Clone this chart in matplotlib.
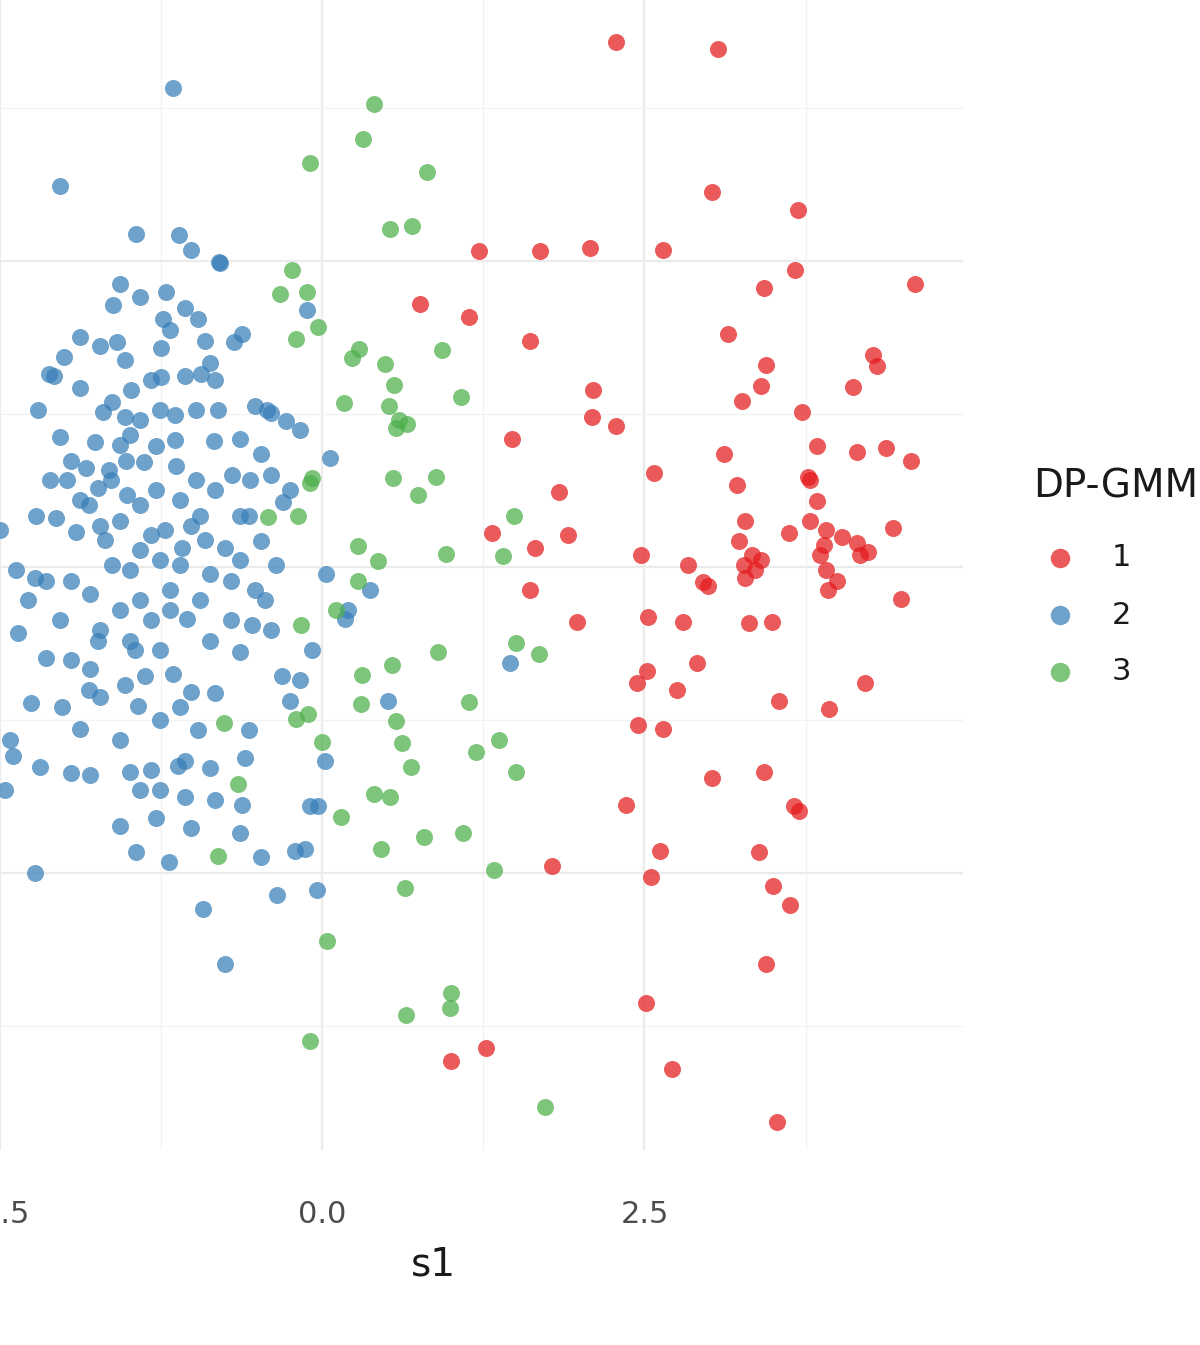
import matplotlib
matplotlib.use("Agg")
import matplotlib.pyplot as plt
from matplotlib.lines import Line2D

clusters = ["1", "2", "3"]
colors = ["#E41A1C", "#377EB8", "#4DAF4A"]

red_x = [2.28,3.07,3.02,3.69,1.22,1.69,2.08,2.64,3.67,3.43,4.60,0.76,1.14,1.61,3.15,4.27,4.30,3.44,3.40,3.26,4.12,2.10,2.09,2.28,3.72,1.47,3.12,3.84,4.15,4.37,4.57,2.57,3.22,3.77,3.78,3.84,1.84,1.32,1.91,1.65,3.28,3.23,3.62,3.78,3.91,4.03,4.15,4.43,2.47,2.84,3.27,3.33,3.40,3.36,3.28,2.95,2.99,3.86,3.91,3.92,3.99,4.17,4.23,3.89,1.61,1.98,2.53,2.80,3.31,3.49,4.49,2.91,2.52,2.44,2.75,4.21,3.54,3.93,2.45,2.64,3.02,3.43,2.36,3.66,3.70,1.78,2.62,2.55,3.39,3.50,3.63,3.44,2.51,1.00,1.27,2.71,3.53]
red_y = [4.29,4.23,3.06,2.92,2.58,2.58,2.61,2.59,2.43,2.28,2.31,2.15,2.04,1.85,1.90,1.73,1.64,1.65,1.48,1.36,1.47,1.45,1.23,1.15,1.27,1.05,0.92,0.99,0.94,0.97,0.87,0.77,0.67,0.74,0.71,0.54,0.61,0.28,0.26,0.16,0.38,0.21,0.28,0.38,0.30,0.25,0.20,0.32,0.10,0.02,0.02,0.10,0.06,-0.02,-0.09,-0.12,-0.15,0.10,-0.02,-0.19,-0.11,0.10,0.12,0.18,-0.19,-0.45,-0.41,-0.45,-0.46,-0.45,-0.26,-0.78,-0.85,-0.95,-1.00,-0.95,-1.09,-1.16,-1.29,-1.32,-1.72,-1.67,-1.94,-1.95,-1.99,-2.44,-2.32,-2.53,-2.33,-2.60,-2.76,-3.24,-3.56,-4.03,-3.93,-4.10,-4.53]

green_x = [0.40,0.32,-0.09,0.81,0.53,0.70,-0.23,-0.33,-0.12,-0.20,-0.03,0.23,0.29,0.93,0.49,0.56,0.17,0.52,0.60,0.66,0.57,1.08,-0.08,-0.09,0.55,0.88,0.74,-0.42,-0.19,1.49,0.28,0.43,0.96,1.40,0.28,0.11,-0.16,1.50,1.68,0.90,0.31,0.54,-0.76,-0.20,-0.11,0.30,1.14,0.57,0.00,0.62,1.37,1.19,0.69,1.50,-0.65,0.40,0.53,0.15,0.46,0.79,1.09,-0.81,1.33,0.64,0.04,0.65,1.00,0.99,-0.09,1.73]
green_y = [3.78,3.50,3.30,3.23,2.76,2.79,2.43,2.23,2.25,1.86,1.96,1.71,1.78,1.77,1.66,1.49,1.34,1.32,1.20,1.17,1.14,1.39,0.73,0.69,0.73,0.74,0.59,0.41,0.42,0.42,0.17,0.05,0.11,0.09,-0.11,-0.35,-0.47,-0.62,-0.71,-0.69,-0.88,-0.80,-1.27,-1.24,-1.20,-1.12,-1.10,-1.26,-1.43,-1.44,-1.41,-1.51,-1.63,-1.67,-1.77,-1.85,-1.88,-2.04,-2.30,-2.20,-2.17,-2.36,-2.47,-2.62,-3.05,-3.66,-3.48,-3.60,-3.87,-4.41]

blue_x = [-1.16,-2.03,-1.44,-1.11,-1.02,-0.80,-0.79,-1.57,-1.41,-1.21,-1.62,-1.06,-1.23,-0.96,-0.12,-1.88,-1.72,-1.59,-2.00,-2.12,-2.08,-1.25,-0.68,-0.62,-0.87,-0.94,-1.06,-1.88,-1.48,-1.25,-2.20,-1.70,-1.63,-1.53,-1.41,-1.26,-1.14,-0.98,-0.81,-0.52,-0.43,-0.40,-0.28,-0.17,-1.49,-2.03,-1.76,-1.29,-0.84,-0.64,-0.47,-1.95,-1.83,-1.65,-1.52,-1.38,-1.13,-0.98,-0.83,-0.70,-0.40,-1.98,-1.74,-1.51,-1.29,-1.10,-0.95,-0.64,-0.57,-0.25,-0.30,0.06,-2.22,-2.06,-1.91,-1.72,-1.57,-1.41,-1.22,-1.09,-0.91,-0.75,-0.47,-2.50,-2.37,-2.23,-2.14,-1.95,-1.80,-1.63,-1.49,-1.26,-1.10,-0.87,-0.71,-0.52,-0.36,0.03,0.37,0.20,0.18,-2.28,-2.36,-2.14,-1.95,-1.80,-1.74,-1.49,-1.33,-1.18,-1.05,-0.87,-0.64,-0.54,-0.40,-0.08,-1.81,-1.72,-1.53,-1.37,-1.16,-1.02,-0.83,-0.31,-0.17,-2.26,-2.02,-1.88,-1.43,-1.10,-0.96,-0.57,-0.25,0.51,1.46,-2.42,-2.40,-2.19,-1.95,-1.80,-1.49,-1.33,-1.12,-0.87,-0.60,0.02,-2.46,-1.41,-1.26,-1.06,-0.83,-0.62,-0.09,-0.03,-1.57,-1.29,-1.02,-0.64,-1.44,-1.19,-0.47,-0.21,-0.13,-2.23,-0.92,-0.35,-0.04,-0.75,
          -1.64,-1.33,-1.57,-1.45,-1.26,-1.68,-1.81,-1.02,-1.18,-1.41,-2.03,-0.71,-0.95,-0.56,-0.83,-1.33,-1.53,-1.18,-0.91,-1.72,-1.41,-1.14,-1.57,-1.88,-2.11,-0.64,-0.44,-1.26,-1.57,-1.06]
blue_y = [3.91,3.11,2.72,2.71,2.59,2.49,2.48,2.31,2.21,2.25,2.14,2.12,2.03,2.03,2.10,1.88,1.81,1.84,1.72,1.58,1.56,1.79,1.84,1.90,1.67,1.58,1.56,1.46,1.45,1.55,1.28,1.27,1.35,1.23,1.20,1.28,1.24,1.28,1.28,1.32,1.28,1.26,1.19,1.12,1.08,1.06,1.02,0.99,1.03,1.05,0.92,0.87,0.81,0.79,0.87,0.86,0.83,0.71,0.63,0.75,0.75,0.71,0.65,0.59,0.63,0.55,0.42,0.42,0.42,0.63,0.53,0.89,0.42,0.40,0.29,0.34,0.38,0.51,0.30,0.16,0.22,0.16,0.21,0.30,-0.02,-0.09,-0.11,-0.11,-0.22,0.02,-0.02,0.06,0.02,-0.06,-0.11,-0.19,0.02,-0.06,-0.19,-0.35,-0.42,-0.27,-0.54,-0.74,-0.76,-0.83,-0.60,-0.60,-0.43,-0.35,-0.42,-0.60,-0.69,-0.47,-0.51,-0.68,-1.00,-1.06,-0.96,-0.89,-0.87,-1.02,-1.03,-0.89,-0.92,-1.11,-1.14,-1.32,-1.13,-1.14,-1.33,-1.33,-1.09,-1.09,-0.78,-1.41,-1.54,-1.63,-1.68,-1.70,-1.67,-1.66,-1.62,-1.64,-1.56,-1.58,-1.82,-1.82,-1.82,-1.88,-1.90,-1.94,-1.95,-1.95,-2.11,-2.05,-2.13,-2.17,-2.33,-2.41,-2.37,-2.32,-2.30,-2.50,-2.79,-2.68,-2.64,-3.24,
          0.71,0.26,-0.35,-0.68,-0.68,0.22,0.51,0.34,-0.19,-0.27,-0.43,-0.43,-0.27,0.71,1.53,1.53,1.69,1.94,1.85,-0.51,0.14,1.04,1.00,0.55,0.71,0.06,-0.27,-1.25,-1.41,-1.58]

series = [(red_x, red_y), (blue_x, blue_y), (green_x, green_y)]
x_ticks = [-2.5, 0.0, 2.5]
x_tick_labels = ["-2.5", "0.0", "2.5"]

W, H = 1200, 1345
fig = plt.figure(figsize=(12, 13.45), dpi=100)
ax = fig.add_axes([-97 / W, 195 / H, 1060 / W, 1200 / H])
for (xs, ys), c in zip(series, colors):
    ax.scatter(xs, ys, s=150, color=c, alpha=0.72, linewidths=0, zorder=3)

ax.set_xlim(-3.25, 4.97)
ax.set_ylim(-4.76, 5.04)
ax.set_xticks(x_ticks)
ax.set_xticklabels(x_tick_labels)
ax.set_xticks([-1.25, 1.25, 3.75], minor=True)
ax.set_yticks([-2.5, 0, 2.5])
ax.set_yticks([-3.75, -1.25, 1.25, 3.75], minor=True)
ax.set_yticklabels([])
ax.grid(which="major", color="#ebebeb", lw=1.6, zorder=0)
ax.grid(which="minor", color="#f2f2f2", lw=0.9, zorder=0)
ax.tick_params(which="both", length=0, labelsize=22, labelcolor="#4d4d4d", pad=36)
for s in ax.spines.values():
    s.set_visible(False)
ax.set_xlabel("s1", fontsize=28, color="#1a1a1a", labelpad=12)

fig.text(1033 / W, 1 - 487 / H, "DP-GMM", fontsize=28, color="#1a1a1a", va="center", ha="left")
for i, (lab, c) in enumerate(zip(clusters, colors)):
    yy = 1 - (558 + 57 * i) / H
    fig.add_artist(Line2D([1060 / W], [yy], marker="o", markersize=14, color=c,
                          alpha=0.72, markeredgewidth=0, transform=fig.transFigure))
    fig.text(1112 / W, yy, lab, fontsize=22, color="#1a1a1a", va="center", ha="left")

fig.savefig("out.png", dpi=100)
